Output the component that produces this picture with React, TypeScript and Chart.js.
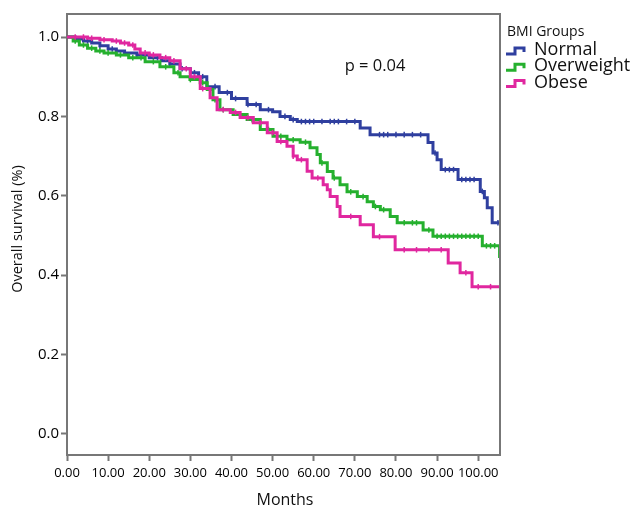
import React, { useEffect, useRef } from "react";
import { Chart, registerables } from "chart.js";

Chart.register(...registerables);

// ---- Data (Kaplan–Meier step points) ----
const groupNames = ["Normal", "Overweight", "Obese"];
const groupColors = ["#2f3f9f", "#25b02e", "#e0279f"];

const normalT = [0, 2, 4, 6, 8, 10, 12, 14, 17, 20, 23, 25, 27.5, 30, 32, 34, 37, 40, 43.8, 47, 50, 51.8, 54.3, 56, 71.3, 73.7, 87.8, 89, 90, 91, 95.1, 100.5, 101.5, 102.2, 103.4, 105.3];
const normalS = [1.0, 0.995, 0.99, 0.985, 0.978, 0.97, 0.965, 0.96, 0.955, 0.948, 0.94, 0.932, 0.92, 0.91, 0.9, 0.875, 0.86, 0.845, 0.83, 0.817, 0.812, 0.8, 0.792, 0.787, 0.771, 0.754, 0.734, 0.708, 0.691, 0.666, 0.641, 0.611, 0.595, 0.57, 0.532, 0.532];

const overT = [0, 1.5, 3, 5, 7, 9, 12, 15, 19, 22.6, 26, 27.5, 29.9, 32.4, 34.1, 35.5, 37.2, 40.4, 43.8, 47, 50.1, 53.5, 56.7, 59.1, 60.8, 61.6, 63.3, 64.7, 66.4, 68.1, 70.6, 73, 74.5, 76.2, 78.6, 80.3, 86.6, 89, 101, 105.2, 105.3];
const overS = [1.0, 0.99, 0.98, 0.972, 0.965, 0.96, 0.955, 0.948, 0.938, 0.925, 0.91, 0.9, 0.893, 0.885, 0.868, 0.842, 0.817, 0.805, 0.792, 0.767, 0.75, 0.741, 0.735, 0.721, 0.704, 0.683, 0.661, 0.645, 0.628, 0.61, 0.598, 0.585, 0.573, 0.565, 0.548, 0.532, 0.514, 0.498, 0.474, 0.447, 0.447];

const obeseT = [0, 5, 8, 11, 13, 15, 16.5, 17.8, 20, 22.6, 25, 27.5, 30, 32.4, 34.8, 36.5, 39.7, 42.1, 45.3, 48.7, 51.1, 53.5, 55, 56, 58.4, 59.6, 62.3, 63.3, 64, 65.7, 66.4, 71.3, 74.5, 79.8, 92.7, 95.6, 98.5, 105.3];
const obeseS = [1.0, 0.997, 0.993, 0.99, 0.985, 0.98, 0.97, 0.96, 0.955, 0.948, 0.94, 0.92, 0.9, 0.87, 0.847, 0.817, 0.81, 0.797, 0.784, 0.759, 0.737, 0.725, 0.7, 0.691, 0.662, 0.645, 0.628, 0.615, 0.598, 0.573, 0.548, 0.527, 0.497, 0.464, 0.431, 0.406, 0.371, 0.371];

// censoring times (tick marks)
const normalCensor = [3, 5, 8, 11, 14, 17, 19, 22, 25, 28, 31, 33, 36, 39, 41, 44, 46, 49, 53, 55, 57, 58, 59, 60, 62, 64, 65, 66, 68, 70, 76, 77, 78, 80, 82, 84, 86, 89.5, 92, 93, 94, 96, 97, 98, 99, 101, 104.8];
const overCensor = [2, 4, 6, 8, 10, 13, 16, 18, 21, 24, 27, 30, 33, 36, 38, 42, 45, 49, 52, 55, 58, 62, 65, 69, 72, 75, 77, 82, 84, 85, 88, 90, 91, 92, 93, 94, 95, 96, 97, 98, 99, 100, 102, 103, 104];
const obeseCensor = [2, 4, 6, 9, 12, 14, 16, 19, 21, 24, 26, 29, 31, 33, 38, 41, 44, 47, 50, 52, 55, 57, 61, 69, 76, 82, 85, 88, 91, 97, 100, 103];

const xTicks = [0, 10, 20, 30, 40, 50, 60, 70, 80, 90, 100];
const yTicks = [0, 0.2, 0.4, 0.6, 0.8, 1.0];

const xTitle = "Months";
const yTitle = "Overall survival (%)";
const legendTitle = "BMI Groups";
const pText = "p = 0.04";

const FONT = '"Open Sans", "Noto Sans", sans-serif';

function survAt(t: number[], s: number[], x: number) {
  let v = s[0];
  for (let i = 0; i < t.length; i++) if (t[i] <= x) v = s[i];
  return v;
}

const series = [
  { t: normalT, s: normalS, c: normalCensor },
  { t: overT, s: overS, c: overCensor },
  { t: obeseT, s: obeseS, c: obeseCensor },
];

const overlayPlugin = {
  id: "overlay",
  afterDraw(chart: any) {
    const ctx = chart.ctx;
    const { left, right, top, bottom } = chart.chartArea;
    ctx.save();
    // box top & right
    ctx.strokeStyle = "#777";
    ctx.lineWidth = 2;
    ctx.beginPath();
    ctx.moveTo(left, top);
    ctx.lineTo(right, top);
    ctx.lineTo(right, bottom);
    ctx.stroke();

    ctx.fillStyle = "#111";
    // legend title
    ctx.font = `14px ${FONT}`;
    ctx.textAlign = "left";
    ctx.textBaseline = "alphabetic";
    ctx.fillText(legendTitle, 507, 36);
    groupNames.forEach((name, i) => {
      const cy = 50 + i * 16.3;
      ctx.strokeStyle = groupColors[i];
      ctx.lineWidth = 3;
      ctx.beginPath();
      ctx.moveTo(506, cy + 4);
      ctx.lineTo(515, cy + 4);
      ctx.lineTo(515, cy - 2);
      ctx.lineTo(524, cy - 2);
      ctx.lineTo(524, cy + 2);
      ctx.stroke();
      ctx.fillStyle = "#111";
      ctx.font = `18px ${FONT}`;
      ctx.textBaseline = "middle";
      ctx.fillText(name, 534, cy);
    });
    // p value
    ctx.font = `16.5px ${FONT}`;
    ctx.textAlign = "center";
    ctx.textBaseline = "middle";
    ctx.fillText(pText, 375, 66);
    // axis titles
    ctx.font = `16px ${FONT}`;
    ctx.fillText(xTitle, 285, 500);
    ctx.save();
    ctx.translate(18, 229);
    ctx.rotate(-Math.PI / 2);
    ctx.font = `14.5px ${FONT}`;
    ctx.fillText(yTitle, 0, 0);
    ctx.restore();
    ctx.restore();
  },
};

export default function App() {
  const ref = useRef<HTMLCanvasElement>(null);
  useEffect(() => {
    if (!ref.current) return;
    const datasets: any[] = [];
    series.forEach((g, i) => {
      datasets.push({
        label: groupNames[i],
        data: g.t.map((x, k) => ({ x, y: g.s[k] })),
        showLine: true,
        stepped: "before",
        borderColor: groupColors[i],
        backgroundColor: groupColors[i],
        borderWidth: 3,
        pointRadius: 0,
        order: 3 - i,
      });
      datasets.push({
        label: groupNames[i] + " censored",
        data: g.c.map((x) => ({ x, y: survAt(g.t, g.s, x) })),
        showLine: false,
        pointStyle: "line",
        rotation: 90,
        pointRadius: 2.8,
        borderWidth: 1.5,
        borderColor: groupColors[i],
        backgroundColor: groupColors[i],
        order: 3 - i,
      });
    });
    const chart = new Chart(ref.current, {
      type: "scatter",
      data: { datasets },
      options: {
        animation: false,
        responsive: false,
        maintainAspectRatio: false,
        layout: { padding: { left: 0, top: 14, right: 131, bottom: 0 } },
        plugins: { legend: { display: false }, tooltip: { enabled: false } },
        scales: {
          x: {
            type: "linear",
            min: 0,
            max: 105.3,
            afterFit: (s: any) => { s.height = 55; },
            afterBuildTicks: (s: any) => { s.ticks = xTicks.map((v) => ({ value: v })); },
            ticks: {
              autoSkip: false,
              maxRotation: 0,
              minRotation: 0,
              padding: 4,
              color: "#000",
              font: { family: FONT, size: 13 },
              callback: (v: any) => Number(v).toFixed(2),
            },
            grid: { drawOnChartArea: false, drawTicks: true, tickLength: 6, tickWidth: 2, tickColor: "#777" },
            border: { display: true, color: "#777", width: 2 },
          },
          y: {
            type: "linear",
            min: -0.053,
            max: 1.058,
            afterFit: (s: any) => { s.width = 67; },
            afterBuildTicks: (s: any) => { s.ticks = yTicks.map((v) => ({ value: v })); },
            ticks: {
              padding: 2,
              color: "#000",
              font: { family: FONT, size: 15 },
              callback: (v: any) => Number(v).toFixed(1),
            },
            grid: { drawOnChartArea: false, drawTicks: true, tickLength: 6, tickWidth: 2, tickColor: "#777" },
            border: { display: true, color: "#777", width: 2 },
          },
        },
      },
      plugins: [overlayPlugin],
    } as any);
    return () => chart.destroy();
  }, []);
  return (
    <div style={{ position: "fixed", left: 0, top: 0, width: 631, height: 510, background: "#fff" }}>
      <canvas ref={ref} width={631} height={510} style={{ width: 631, height: 510, display: "block" }} />
    </div>
  );
}
